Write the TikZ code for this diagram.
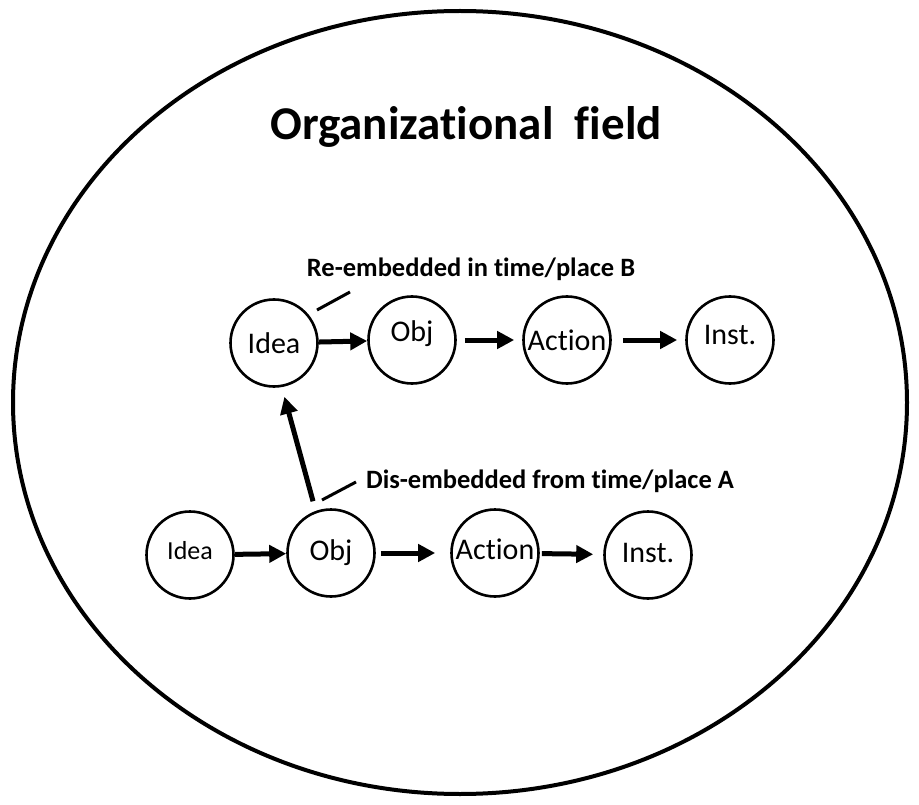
\documentclass[tikz,border=0pt]{standalone}
\usepackage{fontspec}
\setmainfont{Carlito}[Ligatures={NoCommon,NoContextual},Contextuals=NoAlternate]
\usetikzlibrary{arrows.meta}
\begin{document}
\begin{tikzpicture}[x=1pt,y=-1pt,
  circ/.style={draw, circle, line width=2.6pt, minimum size=87pt, inner sep=0pt},
  lbl/.style={font=\fontsize{30}{31}\selectfont, inner sep=0pt},
  smlbl/.style={font=\fontsize{26}{27}\selectfont, inner sep=0pt},
  flow/.style={line width=5pt, -{Triangle[length=17pt,width=17pt]}},
  tag/.style={font=\bfseries\fontsize{26.5}{27}\selectfont, inner sep=0pt, anchor=base},
  tick/.style={line width=3pt}]
\useasboundingbox (0,0) rectangle (919,805);
\fill[white] (0,0) rectangle (919,805);
\draw[line width=4pt] (460,402.5) ellipse [x radius=447, y radius=391.5];
\node[font=\bfseries\fontsize{47}{48}\selectfont, anchor=base, inner sep=0pt] (title) at (466,140) {Organizational\ \ field};
% top row
\node[circ, label={[lbl]center:Idea}] (i2) at (274,343) {};
\node[circ, label={[lbl,yshift=6pt]center:Obj}] (o2) at (412,340) {};
\node[circ, label={[lbl]center:Action}] (a2) at (567,340) {};
\node[circ, label={[lbl,yshift=5pt]center:Inst.}] (n2) at (730,340) {};
% bottom row
\node[circ, label={[smlbl,yshift=4pt]center:Idea}] (i1) at (190,555) {};
\node[circ, label={[lbl]center:Obj}] (o1) at (331,553) {};
\node[circ, label={[lbl,yshift=4pt]center:Action}] (a1) at (495,553) {};
\node[circ, label={[lbl,yshift=2pt]center:Inst.}] (n1) at (648,555) {};
% flow arrows
\draw[flow] (i2) -- (o2);
\draw[flow, shorten <=8pt, shorten >=8pt] (o2) -- (a2);
\draw[flow, shorten <=11pt, shorten >=8pt] (a2) -- (n2);
\draw[flow] (i1) -- (o1);
\draw[flow, shorten <=5pt, shorten >=15pt] (o1) -- (a1);
\draw[flow, shorten <=2pt, shorten >=10pt] (a1) -- (n1);
\draw[flow, shorten <=10pt, shorten >=10pt] (o1.110) -- (i2.280);
% tags
\node[tag] (re) at (471,277) {Re-embedded in time/place B};
\node[tag] (dis) at (550,488) {Dis-embedded from time/place A};
\coordinate (re1) at (317,310);
\coordinate (re2) at (350,292);
\coordinate (dis1) at (322,500);
\coordinate (dis2) at (356,482);
\draw[tick] (re1) -- (re2);
\draw[tick] (dis1) -- (dis2);
\end{tikzpicture}
\end{document}
